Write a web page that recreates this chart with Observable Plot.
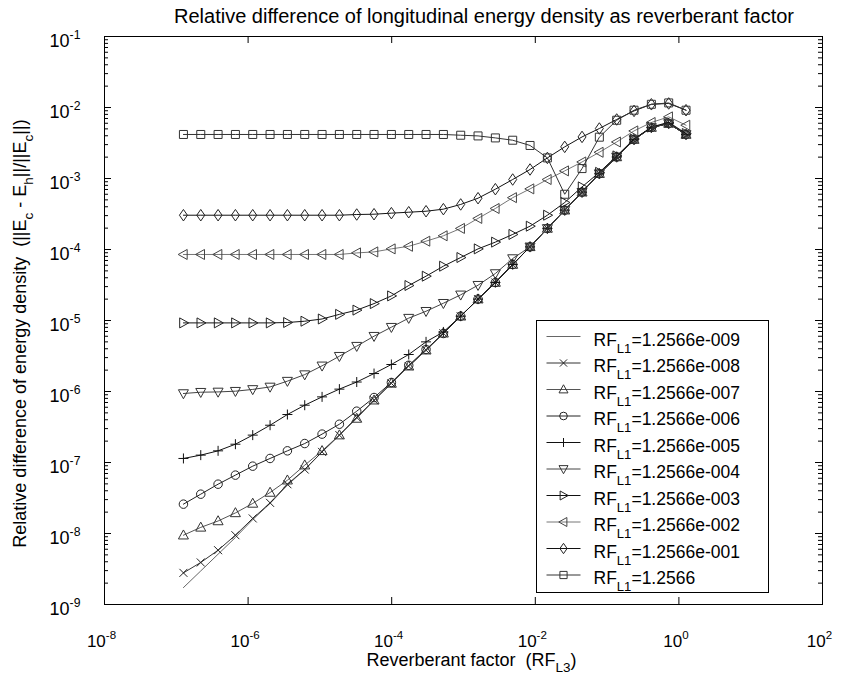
<!DOCTYPE html>
<html>
<head>
<meta charset="utf-8">
<script src="https://cdn.jsdelivr.net/npm/d3@7"></script>
<script src="https://cdn.jsdelivr.net/npm/@observablehq/plot@0.6"></script>
<style>
  body { margin: 0; background: #fff; font-family: "Liberation Sans", Arial, sans-serif; }
  #title { width: 841px; height: 26px; box-sizing: border-box; padding-top: 6px; padding-left: 127px;
           font-size: 20px; line-height: 20px; text-align: center; color: #000; white-space: nowrap; }
  #chart svg { display: block; }
</style>
</head>
<body>
<div id="title">Relative difference of longitudinal energy density as reverberant factor</div>
<div id="chart"></div>
<script>
// ---- x values: reverberant factor RF_L3 (30 points) ----
const rfL3 = [1.257e-7, 2.191e-7, 3.819e-7, 6.657e-7, 1.160e-6, 2.023e-6, 3.526e-6, 6.147e-6,
  1.072e-5, 1.868e-5, 3.257e-5, 5.677e-5, 9.90e-5, 1.726e-4, 3.008e-4, 5.245e-4, 9.14e-4,
  1.594e-3, 2.779e-3, 4.844e-3, 8.45e-3, 1.473e-2, 2.568e-2, 4.477e-2, 7.80e-2, 0.1360,
  0.2372, 0.4135, 0.7210, 1.2566];

// ---- series values (relative difference) ----
const rf1e9 = [1.73e-9, 2.97e-9, 5.11e-9, 8.79e-9, 1.57e-8, 2.65e-8, 4.79e-8, 7.96e-8, 1.41e-7, 2.43e-7,
  4.31e-7, 7.54e-7, 1.30e-6, 2.27e-6, 3.82e-6, 6.62e-6, 1.15e-5, 2.0e-5, 3.43e-5, 6.15e-5,
  1.09e-4, 1.98e-4, 3.58e-4, 6.41e-4, 1.17e-3, 2.01e-3, 3.54e-3, 5.23e-3, 5.96e-3, 4.17e-3];
const rf1e8 = [2.79e-9, 3.91e-9, 5.82e-9, 9.46e-9, 1.63e-8, 2.70e-8, 4.94e-8, 7.96e-8, 1.41e-7, 2.43e-7,
  4.31e-7, 7.54e-7, 1.30e-6, 2.27e-6, 3.82e-6, 6.62e-6, 1.15e-5, 2.0e-5, 3.43e-5, 6.15e-5,
  1.09e-4, 1.98e-4, 3.58e-4, 6.41e-4, 1.17e-3, 2.01e-3, 3.54e-3, 5.23e-3, 5.96e-3, 4.17e-3];
const rf1e7 = [9.46e-9, 1.22e-8, 1.50e-8, 1.95e-8, 2.65e-8, 3.78e-8, 5.63e-8, 9.17e-8, 1.46e-7, 2.43e-7,
  4.17e-7, 7.54e-7, 1.30e-6, 2.27e-6, 3.82e-6, 6.62e-6, 1.15e-5, 2.0e-5, 3.43e-5, 6.15e-5,
  1.09e-4, 1.98e-4, 3.58e-4, 6.41e-4, 1.17e-3, 2.01e-3, 3.54e-3, 5.23e-3, 5.96e-3, 4.17e-3];
const rf1e6 = [2.59e-8, 3.58e-8, 4.95e-8, 6.64e-8, 8.88e-8, 1.14e-7, 1.46e-7, 1.85e-7, 2.51e-7, 3.46e-7,
  5.28e-7, 8.22e-7, 1.34e-6, 2.34e-6, 3.91e-6, 6.56e-6, 1.15e-5, 2.0e-5, 3.43e-5, 6.15e-5,
  1.09e-4, 1.98e-4, 3.58e-4, 6.41e-4, 1.17e-3, 2.01e-3, 3.54e-3, 5.23e-3, 5.96e-3, 4.17e-3];
const rf1e5 = [1.14e-7, 1.27e-7, 1.46e-7, 1.81e-7, 2.43e-7, 3.35e-7, 4.74e-7, 6.41e-7, 8.40e-7, 1.08e-6,
  1.36e-6, 1.79e-6, 2.40e-6, 3.32e-6, 5.0e-6, 6.9e-6, 1.15e-5, 2.0e-5, 3.43e-5, 6.15e-5,
  1.09e-4, 1.98e-4, 3.58e-4, 6.41e-4, 1.17e-3, 2.01e-3, 3.54e-3, 5.23e-3, 5.96e-3, 4.17e-3];
const rf1e4 = [9.37e-7, 9.77e-7, 9.86e-7, 1.01e-6, 1.07e-6, 1.16e-6, 1.40e-6, 1.73e-6, 2.30e-6, 3.14e-6,
  4.35e-6, 6.01e-6, 8.05e-6, 1.08e-5, 1.35e-5, 1.75e-5, 2.30e-5, 3.14e-5, 4.59e-5, 7.46e-5,
  1.09e-4, 1.98e-4, 3.58e-4, 6.41e-4, 1.17e-3, 2.01e-3, 3.54e-3, 5.23e-3, 5.96e-3, 4.17e-3];
const rf1e3 = [9.25e-6, 9.25e-6, 9.25e-6, 9.25e-6, 9.25e-6, 9.25e-6, 9.37e-6, 9.77e-6, 1.05e-5, 1.22e-5,
  1.40e-5, 1.73e-5, 2.22e-5, 3.11e-5, 4.21e-5, 5.82e-5, 7.71e-5, 1.02e-4, 1.27e-4, 1.63e-4,
  2.13e-4, 3.04e-4, 4.59e-4, 7.62e-4, 1.22e-3, 2.08e-3, 3.6e-3, 5.3e-3, 6.2e-3, 4.3e-3];
const rf1e2 = [8.51e-5, 8.51e-5, 8.51e-5, 8.51e-5, 8.51e-5, 8.51e-5, 8.51e-5, 8.51e-5, 8.51e-5, 8.51e-5,
  8.95e-5, 9.25e-5, 1.02e-4, 1.11e-4, 1.31e-4, 1.56e-4, 1.98e-4, 2.74e-4, 3.78e-4, 5.37e-4,
  7.14e-4, 9.68e-4, 1.28e-3, 1.71e-3, 2.34e-3, 3.27e-3, 4.68e-3, 6.15e-3, 7.38e-3, 5.63e-3];
const rf1e1 = [3.04e-4, 3.04e-4, 3.04e-4, 3.04e-4, 3.04e-4, 3.04e-4, 3.04e-4, 3.04e-4, 3.04e-4, 3.04e-4,
  3.11e-4, 3.14e-4, 3.25e-4, 3.35e-4, 3.46e-4, 3.70e-4, 4.31e-4, 5.28e-4, 7.07e-4, 9.68e-4,
  1.34e-3, 1.95e-3, 2.79e-3, 3.85e-3, 5.06e-3, 6.78e-3, 8.95e-3, 1.11e-2, 1.14e-2, 9.16e-3];
const rf1e0 = [4.17e-3, 4.17e-3, 4.17e-3, 4.17e-3, 4.17e-3, 4.17e-3, 4.17e-3, 4.17e-3, 4.17e-3, 4.17e-3,
  4.17e-3, 4.17e-3, 4.17e-3, 4.17e-3, 4.17e-3, 4.17e-3, 4.07e-3, 3.98e-3, 3.73e-3, 3.46e-3,
  2.92e-3, 1.95e-3, 6.0e-4, 1.38e-3, 3.82e-3, 6.62e-3, 9.16e-3, 1.11e-2, 1.16e-2, 9.16e-3];

const seriesLabels = ["RF_{L1}=1.2566e-009", "RF_{L1}=1.2566e-008", "RF_{L1}=1.2566e-007",
  "RF_{L1}=1.2566e-006", "RF_{L1}=1.2566e-005", "RF_{L1}=1.2566e-004", "RF_{L1}=1.2566e-003",
  "RF_{L1}=1.2566e-002", "RF_{L1}=1.2566e-001", "RF_{L1}=1.2566"];

// ---- ticks ----
const xTicks = [1e-8, 1e-6, 1e-4, 1e-2, 1e0, 1e2];
const yTicks = [1e-9, 1e-8, 1e-7, 1e-6, 1e-5, 1e-4, 1e-3, 1e-2, 1e-1];
const yMinorTicks = yTicks.slice(0, -1).flatMap(d => [2, 3, 4, 5, 6, 7, 8, 9].map(m => m * d));

const xLabel = "Reverberant factor\u00a0\u00a0(RF_{L3})";
const yLabel = "Relative difference of energy density\u00a0\u00a0(||E_{c} - E_{h}||/||E_{c}||)";

// ---- marker shapes (MATLAB style, unfilled) ----
function sym(fn) { return { draw(ctx, size) { fn(ctx, Math.sqrt(size / Math.PI)); } }; }
const shapes = {
  times: sym((c, r) => { const a = r * 0.8; c.moveTo(-a, -a); c.lineTo(a, a); c.moveTo(-a, a); c.lineTo(a, -a); }),
  triUp: sym((c, r) => { c.moveTo(0, -r * 1.05); c.lineTo(r, r * 0.75); c.lineTo(-r, r * 0.75); c.closePath(); }),
  circle: sym((c, r) => { const a = r * 0.85; c.moveTo(a, 0); c.arc(0, 0, a, 0, 2 * Math.PI); }),
  plus: sym((c, r) => { c.moveTo(-r, 0); c.lineTo(r, 0); c.moveTo(0, -r); c.lineTo(0, r); }),
  triDown: sym((c, r) => { c.moveTo(0, r * 1.05); c.lineTo(r, -r * 0.75); c.lineTo(-r, -r * 0.75); c.closePath(); }),
  triRight: sym((c, r) => { c.moveTo(r * 1.05, 0); c.lineTo(-r * 0.75, -r); c.lineTo(-r * 0.75, r); c.closePath(); }),
  triLeft: sym((c, r) => { c.moveTo(-r * 1.05, 0); c.lineTo(r * 0.75, -r); c.lineTo(r * 0.75, r); c.closePath(); }),
  diamond: sym((c, r) => { c.moveTo(0, -r * 1.15); c.lineTo(r * 0.8, 0); c.lineTo(0, r * 1.15); c.lineTo(-r * 0.8, 0); c.closePath(); }),
  square: sym((c, r) => { const a = r * 0.8; c.rect(-a, -a, 2 * a, 2 * a); }),
  legendLine: sym((c, r) => { c.moveTo(-17, 0); c.lineTo(17, 0); })
};

const series = [
  { label: seriesLabels[0], values: rf1e9, shape: null, line: "#666", mark: "#666" },
  { label: seriesLabels[1], values: rf1e8, shape: shapes.times, line: "#333", mark: "#222" },
  { label: seriesLabels[2], values: rf1e7, shape: shapes.triUp, line: "#555", mark: "#333" },
  { label: seriesLabels[3], values: rf1e6, shape: shapes.circle, line: "#222", mark: "#222" },
  { label: seriesLabels[4], values: rf1e5, shape: shapes.plus, line: "#111", mark: "#111" },
  { label: seriesLabels[5], values: rf1e4, shape: shapes.triDown, line: "#444", mark: "#333" },
  { label: seriesLabels[6], values: rf1e3, shape: shapes.triRight, line: "#111", mark: "#222" },
  { label: seriesLabels[7], values: rf1e2, shape: shapes.triLeft, line: "#777", mark: "#444" },
  { label: seriesLabels[8], values: rf1e1, shape: shapes.diamond, line: "#111", mark: "#222" },
  { label: seriesLabels[9], values: rf1e0, shape: shapes.square, line: "#333", mark: "#333" }
];

const W = 841, H = 652;
const mLeft = 104, mRight = 19, mTop = 10, mBottom = 74;
const innerW = W - mLeft - mRight, innerH = H - mTop - mBottom;
const FONT = "Liberation Sans, Arial, sans-serif";

const marks = [];
// data
for (const s of series) {
  const rows = rfL3.map((x, k) => ({ x, y: s.values[k] }));
  marks.push(Plot.line(rows, { x: "x", y: "y", stroke: s.line, strokeWidth: 1 }));
  if (s.shape) marks.push(Plot.dot(rows, { x: "x", y: "y", symbol: s.shape, r: 5, fill: "none", stroke: s.mark, strokeWidth: 1 }));
}
// inward ticks on all four sides
marks.push(Plot.ruleY(yTicks, { y: d => d, insetRight: innerW - 7, stroke: "#000" }));
marks.push(Plot.ruleY(yTicks, { y: d => d, insetLeft: innerW - 7, stroke: "#000" }));
marks.push(Plot.ruleY(yMinorTicks, { y: d => d, insetRight: innerW - 4, stroke: "#000" }));
marks.push(Plot.ruleY(yMinorTicks, { y: d => d, insetLeft: innerW - 4, stroke: "#000" }));
marks.push(Plot.ruleX(xTicks, { x: d => d, insetTop: innerH - 7, stroke: "#000" }));
marks.push(Plot.ruleX(xTicks, { x: d => d, insetBottom: innerH - 7, stroke: "#000" }));
// tick labels
marks.push(Plot.axisY(yTicks, { tickSize: 0, tickPadding: 24, dy: 5, label: null, fontSize: 18, fontFamily: FONT,
  tickFormat: d => `10^{${Math.round(Math.log10(d))}}` }));
marks.push(Plot.axisX(xTicks, { tickSize: 0, tickPadding: 30, dx: -3, label: null, fontSize: 17, fontFamily: FONT,
  tickFormat: d => `10^{${Math.round(Math.log10(d))}}` }));
// axis titles
marks.push(Plot.text([xLabel], { text: d => d, frameAnchor: "bottom", textAnchor: "middle", dx: 8, dy: 61, fontSize: 18, fontFamily: FONT, fill: "#000" }));
marks.push(Plot.text([yLabel], { text: d => d, frameAnchor: "left", textAnchor: "middle", rotate: -90, dx: -84, dy: 13, fontSize: 18, fontFamily: FONT, fill: "#000" }));
// frame
marks.push(Plot.frame({ stroke: "#000", strokeWidth: 1 }));
// legend
marks.push(Plot.frame({ fill: "#fff", stroke: "#000", strokeWidth: 1, insetLeft: 432, insetRight: 54, insetTop: 284, insetBottom: 12 }));
series.forEach((s, i) => {
  const dy = 300 + 26.5 * i;
  marks.push(Plot.dot([s], { frameAnchor: "top-left", dx: 459, dy, symbol: shapes.legendLine, r: 5, fill: "none", stroke: s.line, strokeWidth: 1 }));
  if (s.shape) marks.push(Plot.dot([s], { frameAnchor: "top-left", dx: 459, dy, symbol: s.shape, r: 4.5, fill: "none", stroke: s.mark, strokeWidth: 1 }));
  marks.push(Plot.text([s], { frameAnchor: "top-left", dx: 489, dy: dy - 3, text: d => d.label, textAnchor: "start", fontSize: 17.5, fontFamily: FONT, fill: "#000" }));
});

const chart = Plot.plot({
  width: W, height: H,
  marginLeft: mLeft, marginRight: mRight, marginTop: mTop, marginBottom: mBottom,
  style: { fontFamily: FONT, background: "#fff", color: "#000", overflow: "visible" },
  x: { type: "log", domain: [1e-8, 1e2] },
  y: { type: "log", domain: [1e-9, 1e-1] },
  marks
});
document.getElementById("chart").appendChild(chart);

// rich text: ^{...} superscript, _{...} subscript
const NS = "http://www.w3.org/2000/svg";
chart.querySelectorAll("text").forEach(el => {
  const s = el.textContent;
  if (!/[\^_]\{/.test(s)) return;
  const fs = parseFloat(getComputedStyle(el).fontSize) || 18;
  const parts = []; const re = /([\^_])\{([^}]*)\}/g; let last = 0, m;
  while ((m = re.exec(s))) {
    if (m.index > last) parts.push({ t: s.slice(last, m.index), k: "" });
    parts.push({ t: m[2], k: m[1] }); last = re.lastIndex;
  }
  if (last < s.length) parts.push({ t: s.slice(last), k: "" });
  while (el.firstChild) el.removeChild(el.firstChild);
  let shift = 0;
  for (const p of parts) {
    const ts = document.createElementNS(NS, "tspan");
    const target = p.k === "^" ? -0.45 * fs : p.k === "_" ? 0.38 * fs : 0;
    if (target !== shift) ts.setAttribute("dy", target - shift);
    shift = target;
    if (p.k) ts.setAttribute("font-size", (p.k === "^" ? 0.68 : 0.75) * fs);
    ts.textContent = p.t;
    el.appendChild(ts);
  }
});
</script>
</body>
</html>
